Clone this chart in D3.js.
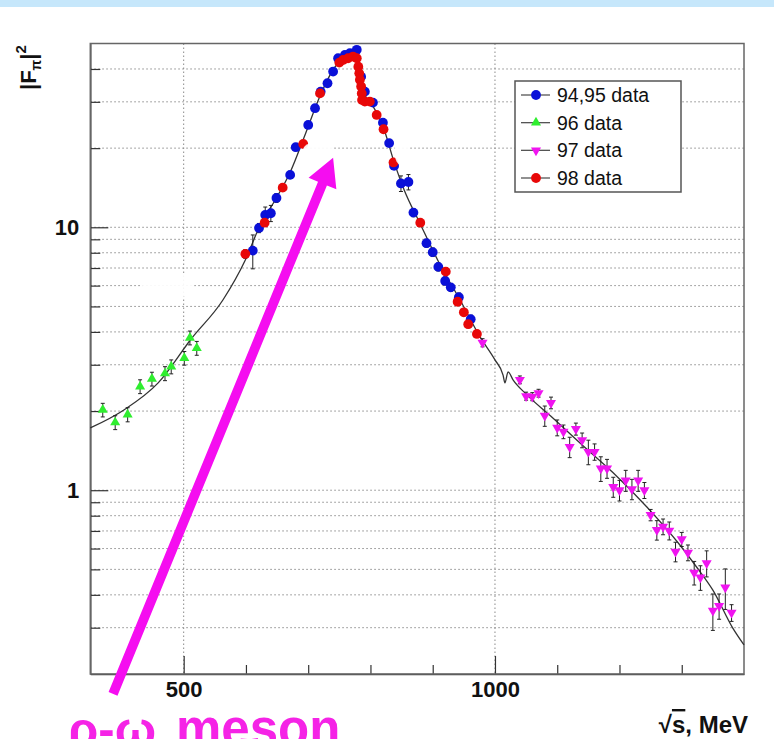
<!DOCTYPE html>
<html><head><meta charset="utf-8">
<script src="https://cdn.jsdelivr.net/npm/d3@7"></script>
<style>
body{margin:0;background:#fff;}
svg{display:block;font-family:"Liberation Sans",Arial,Helvetica,sans-serif;}
</style>
</head><body>
<svg id="c" width="774" height="739"></svg>
<script>
// ---------------- data ----------------
// x: sqrt(s) in MeV, y: |F_pi|^2
const e9495 = [611,621,631,640,649,671,680,700,711,720,731,740,748,759,767,778,785,791,804,820,830,838,849,861,869,890,900,909,920,929,942,961];
const f9495 = [8.15,9.94,11.14,11.31,12.93,15.82,20.16,24.5,28.37,32.8,35.3,39.1,43.95,45.2,45.9,47.3,37.4,32.8,29.8,25.0,20.9,17.12,14.68,14.87,11.37,8.70,8.04,7.07,6.25,5.91,5.42,4.47];
const err9495 = [1.2,0.4,0.8,0.8,0.5,0.5,0.6,0.7,0.8,0.9,0.9,1.0,1.1,1.1,1.1,1.2,1.0,0.9,0.8,0.7,0.6,0.5,1.0,1.0,0.4,0.3,0.3,0.25,0.22,0.2,0.2,0.16];

const e96 = [370,390,410,430,449,470,480,501,510,521];
const f96 = [2.02,1.81,1.94,2.48,2.65,2.78,2.95,3.18,3.80,3.47];
const err96 = [0.12,0.11,0.12,0.15,0.16,0.17,0.18,0.19,0.23,0.21];

const e97 = [980,1040,1050,1060,1070,1080,1090,1100,1110,1120,1130,1140,1150,1160,1170,1180,1190,1200,1210,1220,1230,1240,1250,1260,1270,1280,1290,1300,1310,1320,1330,1340,1350,1360,1370,1380];
const f97 = [3.64,2.63,2.28,2.27,2.34,1.92,2.15,1.73,1.67,1.46,1.71,1.55,1.40,1.40,1.21,1.21,1.03,1.00,1.09,1.01,1.09,1.00,0.805,0.706,0.727,0.702,0.584,0.651,0.579,0.486,0.466,0.528,0.348,0.363,0.427,0.342];
const err97 = [0.13,0.09,0.08,0.08,0.08,0.17,0.11,0.12,0.10,0.13,0.09,0.10,0.15,0.10,0.13,0.10,0.09,0.09,0.10,0.09,0.10,0.07,0.04,0.06,0.05,0.055,0.05,0.04,0.04,0.05,0.05,0.06,0.055,0.04,0.075,0.025];

const e98 = [599,630,659,692,719,750,756,764,772,778,780.5,782,783,785,786,786.5,791,799,810,821,837,880,921,940,950,957,971];
const f98 = [7.92,10.41,14.15,20.75,32.3,42.3,43.3,43.95,44.6,43.95,40.8,38.5,36.4,34.3,32.3,30.5,30.06,30.06,26.75,23.6,17.64,10.41,6.78,5.21,4.75,4.28,3.93];
const err98 = [0.3,0.3,0.4,0.5,0.7,0.9,0.9,0.9,0.9,0.9,0.8,0.8,0.8,0.7,0.7,0.7,0.7,0.7,0.6,0.5,0.45,0.3,0.2,0.15,0.14,0.13,0.12];

// fit curve
const fitE = [350,404,459,512,563,599,623,647,671,695,719,743,764,777,781,783,786,793,802,820,838,854,880,912,944,976,1000,1013,1016,1021,1029,1050,1089,1137,1189,1244,1297,1325,1350,1382,1400];
const fitF = [1.725,2.02,2.56,3.76,5.29,7.51,10.2,12.7,16.2,22.5,31.6,40.7,44.5,45.6,43.9,39.0,33.9,31.3,29.4,24.3,17.7,13.9,10.3,7.19,5.29,3.83,3.13,2.74,2.56,2.82,2.63,2.32,1.92,1.51,1.17,0.863,0.619,0.506,0.417,0.299,0.258];

const xMajorTicks = [500,1000];
const xMinorTicks = [400,600,700,800,900,1100,1200,1300];
const yLabelTicks = [1,10];
const yMinorTicks = [0.3,0.4,0.5,0.6,0.7,0.8,0.9,2,3,4,5,6,7,8,9,20,30,40];

const legendLabels = ["94,95 data","96 data","97 data","98 data"];

// annotation (data coordinates)
const arrowFrom = [386.5, 0.168];
const arrowTo = [740, 18.4];
const annotationParts = ["ρ-ω", "meson"];
// slide artefacts: white patches [E, F, rx, ry]
const patches = [[475,6.0,26,14],[716,19.7,15,8],[851,19.3,8,13],[1085,2.75,17,9]];

// ---------------- drawing ----------------
const svg = d3.select("#c");
const L=90.3, R=744, T=43.5, B=674;
const x = d3.scaleLinear().domain([350,1400]).range([L,R]);
const y = d3.scaleLog().domain([0.2,50]).range([B,T]);

svg.append("rect").attr("x",0).attr("y",0).attr("width",774).attr("height",7).attr("fill","#c6e7fb");

const gridCol="#8a8a8a";
svg.append("g").selectAll("line").data(yMinorTicks.concat(yLabelTicks)).join("line")
  .attr("x1",L).attr("x2",R).attr("y1",d=>y(d)).attr("y2",d=>y(d))
  .attr("stroke",gridCol).attr("stroke-width",1).attr("stroke-dasharray","1.5,2.5");
svg.append("g").selectAll("line").data(xMajorTicks).join("line")
  .attr("y1",T).attr("y2",B).attr("x1",d=>x(d)).attr("x2",d=>x(d))
  .attr("stroke",gridCol).attr("stroke-width",1).attr("stroke-dasharray","1.5,2.5");

const xAxis = d3.axisBottom(x).tickValues(xMajorTicks.concat(xMinorTicks))
  .tickFormat(d=>xMajorTicks.includes(d)? d : "").tickSize(-9).tickSizeOuter(0).tickPadding(7);
const gx = svg.append("g").attr("transform",`translate(0,${B})`).call(xAxis);
gx.selectAll(".tick line").attr("y2",d=>xMajorTicks.includes(d)? -18 : -9);
const yAxis = d3.axisLeft(y).tickValues(yLabelTicks.concat(yMinorTicks))
  .tickFormat(d=>yLabelTicks.includes(d)? d : "").tickSize(-10).tickSizeOuter(0).tickPadding(11);
const gy = svg.append("g").attr("transform",`translate(${L},0)`).call(yAxis);
gy.selectAll(".tick line").attr("x2",d=>yLabelTicks.includes(d)? 18 : 10);
[gx,gy].forEach(g=>{
  g.select(".domain").attr("stroke","#444").attr("stroke-width",1.5);
  g.selectAll(".tick line").attr("stroke","#333").attr("stroke-width",1.2);
  g.selectAll(".tick text").attr("font-size",22).attr("font-weight","bold").attr("fill","#111")
   .attr("font-family","'Liberation Sans',Arial,sans-serif");
});
svg.append("rect").attr("x",L).attr("y",T).attr("width",R-L).attr("height",B-T)
  .attr("fill","none").attr("stroke","#666").attr("stroke-width",1.5);

const fit = fitE.map((e,i)=>[e,fitF[i]]);
svg.append("path").datum(fit)
  .attr("d",d3.line().x(d=>x(d[0])).y(d=>y(d[1])).curve(d3.curveMonotoneX))
  .attr("fill","none").attr("stroke","#333").attr("stroke-width",1.3);

const series = [
  {E:e9495,F:f9495,S:err9495,color:"#0a10d8",shape:"circle"},
  {E:e96,F:f96,S:err96,color:"#2fee2f",shape:"up"},
  {E:e97,F:f97,S:err97,color:"#f014f0",shape:"down"},
  {E:e98,F:f98,S:err98,color:"#e80808",shape:"circle"}
];
function marker(sel, shape, color){
  if(shape==="circle"){
    sel.append("circle").attr("r",4.9).attr("fill",color);
  } else {
    sel.append("path").attr("d",d3.symbol(d3.symbolTriangle,44)())
      .attr("transform",shape==="down"?"rotate(180)":null).attr("fill",color);
  }
}
[0,1,2,3].forEach(k=>{
  const s=series[k];
  const pts=s.E.map((e,i)=>({e,f:s.F[i],s:s.S[i]}));
  const g=svg.append("g");
  const eb=g.append("g").attr("stroke","#222").attr("stroke-width",1);
  eb.selectAll("line.v").data(pts).join("line").attr("class","v")
    .attr("x1",d=>x(d.e)).attr("x2",d=>x(d.e)).attr("y1",d=>y(d.f+d.s)).attr("y2",d=>y(Math.max(d.f-d.s,0.2)));
  eb.selectAll("line.t").data(pts).join("line").attr("class","t")
    .attr("x1",d=>x(d.e)-2).attr("x2",d=>x(d.e)+2).attr("y1",d=>y(d.f+d.s)).attr("y2",d=>y(d.f+d.s));
  eb.selectAll("line.b").data(pts).join("line").attr("class","b")
    .attr("x1",d=>x(d.e)-2).attr("x2",d=>x(d.e)+2).attr("y1",d=>y(d.f-d.s)).attr("y2",d=>y(d.f-d.s));
  g.selectAll("g.m").data(pts).join("g").attr("class","m")
    .attr("transform",d=>`translate(${x(d.e)},${y(d.f)})`)
    .each(function(){ marker(d3.select(this), s.shape, s.color); });
});

const lg = svg.append("g");
lg.append("rect").attr("x",515).attr("y",81).attr("width",166).attr("height",111)
  .attr("fill","#fff").attr("stroke","#555").attr("stroke-width",1.5);
const rowY = d3.scalePoint().domain(legendLabels).range([95,178]);
legendLabels.forEach((lab,i)=>{
  const yy=rowY(lab);
  lg.append("line").attr("x1",521).attr("x2",550).attr("y1",yy).attr("y2",yy).attr("stroke","#555").attr("stroke-width",1.3);
  const m=lg.append("g").attr("transform",`translate(536,${yy})`);
  marker(m, series[i].shape, series[i].color);
  lg.append("text").attr("x",557).attr("y",yy).attr("dy","0.36em").attr("font-size",19.5).attr("fill","#111").text(lab);
});

svg.append("g").selectAll("ellipse").data(patches).join("ellipse")
  .attr("cx",d=>x(d[0])).attr("cy",d=>y(d[1])).attr("rx",d=>d[2]).attr("ry",d=>d[3])
  .attr("fill","#fff").attr("opacity",0.92);

const yt = svg.append("text").attr("transform","translate(36,90) rotate(-90)")
  .attr("font-size",22).attr("font-weight","bold").attr("fill","#111");
yt.append("tspan").text("|F");
yt.append("tspan").attr("font-size",14).attr("dy",5).text("π");
yt.append("tspan").attr("dy",-5).text("|");
yt.append("tspan").attr("font-size",15).attr("dy",-10).text("2");

const xt = svg.append("text").attr("x",748).attr("y",733).attr("text-anchor","end")
  .attr("font-size",24).attr("font-weight","bold").attr("fill","#111");
xt.append("tspan").text("√");
xt.append("tspan").style("text-decoration","overline").text("s");
xt.append("tspan").text(", MeV");

const p0=[x(arrowFrom[0]),y(arrowFrom[1])], p1=[x(arrowTo[0]),y(arrowTo[1])];
const dx=p1[0]-p0[0], dy=p1[1]-p0[1], len=Math.hypot(dx,dy);
const ux=dx/len, uy=dy/len, nx=-uy, ny=ux;
const headLen=28, headHalf=15, shaftHalf=4.8;
const bx=p1[0]-ux*headLen, by=p1[1]-uy*headLen;
const poly=[
  [p0[0]+nx*shaftHalf,p0[1]+ny*shaftHalf],
  [bx+nx*shaftHalf,by+ny*shaftHalf],
  [bx+nx*headHalf,by+ny*headHalf],
  p1,
  [bx-nx*headHalf,by-ny*headHalf],
  [bx-nx*shaftHalf,by-ny*shaftHalf],
  [p0[0]-nx*shaftHalf,p0[1]-ny*shaftHalf]
];
svg.append("path").attr("d","M"+poly.map(p=>p.join(",")).join("L")+"Z").attr("fill","#f50df0");

const at = svg.append("text").attr("x",68).attr("y",746).attr("font-size",49).attr("font-weight","bold")
  .attr("fill","#f523e6");
at.append("tspan").text(annotationParts[0]);
at.append("tspan").attr("x",176).attr("font-size",51).text(annotationParts[1]);
</script>
</body></html>
